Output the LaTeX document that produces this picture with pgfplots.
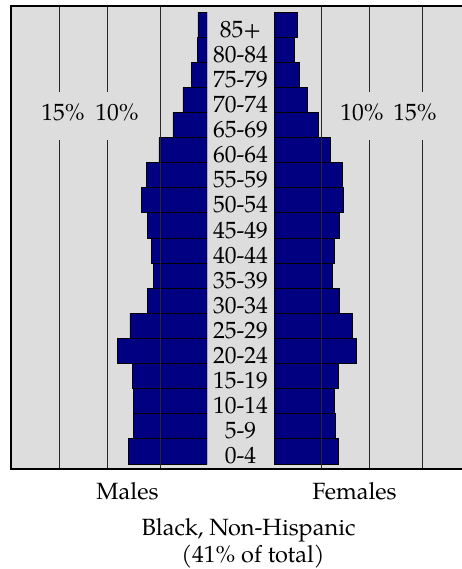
\documentclass[border=0pt]{standalone}
\usepackage{pgfplots}
\usepackage{pgfplotstable}
\pgfplotsset{compat=1.18}
\usepackage{fontspec}
\setmainfont{TeX Gyre Pagella}
\definecolor{bg}{RGB}{221,221,221}
\definecolor{barblue}{RGB}{0,0,128}
\definecolor{gridc}{RGB}{40,40,40}

% age index: 0 = 0-4, ..., 17 = 85+ ; values in percent
\pgfplotstableread{
age m    f
0   8.06 6.53
1   7.55 6.22
2   7.55 6.12
3   7.65 6.53
4   9.18 8.37
5   7.86 7.96
6   6.12 6.63
7   5.51 5.92
8   5.71 6.12
9   6.12 6.63
10  6.73 7.04
11  6.22 6.94
12  4.90 5.71
13  3.47 4.49
14  2.45 3.37
15  1.63 2.55
16  1.02 2.04
17  0.92 2.35
}\pyr

\pgfplotsset{pyr/.style={
  anchor=south west, height=463pt, scale only axis,
  ymin=-0.7, ymax=17.74, hide axis, xbar, bar width=1, xmin=0}}

\begin{document}
\begin{tikzpicture}[x=1pt,y=1pt]
\useasboundingbox (0,0) rectangle (462,569);
\fill[bg] (11,100) rectangle (470,563);

\begin{axis}[pyr, name=male, at={(11pt,100pt)}, width=196pt, xmax=20, x dir=reverse]
\addplot[fill=barblue, draw=black, line width=0.8pt] table[x=m, y=age]{\pyr};
\draw[gridc, line width=1pt] (axis cs:4.7,-0.7) -- (axis cs:4.7,17.74);
\draw[gridc, line width=1pt] (axis cs:10.2,-0.7) -- (axis cs:10.2,12.40);
\draw[gridc, line width=1pt] (axis cs:10.2,14.31) -- (axis cs:10.2,17.74);
\draw[gridc, line width=1pt] (axis cs:15.0,-0.7) -- (axis cs:15.0,12.40);
\draw[gridc, line width=1pt] (axis cs:15.0,14.31) -- (axis cs:15.0,17.74);
\end{axis}

\begin{axis}[pyr, name=female, at={(274pt,100pt)}, width=188pt, xmax=19.18]
\addplot[fill=barblue, draw=black, line width=0.8pt] table[x=f, y=age]{\pyr};
\draw[gridc, line width=1pt] (axis cs:4.8,-0.7) -- (axis cs:4.8,17.74);
\draw[gridc, line width=1pt] (axis cs:9.7,-0.7) -- (axis cs:9.7,12.40);
\draw[gridc, line width=1pt] (axis cs:9.7,14.31) -- (axis cs:9.7,17.74);
\draw[gridc, line width=1pt] (axis cs:15.1,-0.7) -- (axis cs:15.1,12.40);
\draw[gridc, line width=1pt] (axis cs:15.1,14.31) -- (axis cs:15.1,17.74);
\end{axis}

\draw[black, line width=1.2pt] (470,563) -- (11,563) -- (11,100) -- (470,100);

\begin{scope}[every node/.style={font=\fontsize{23.5}{27}\selectfont, anchor=base, inner sep=0pt}]
\foreach \k/\lab in {0/0-4,1/5-9,2/10-14,3/15-19,4/20-24,5/25-29,6/30-34,7/35-39,8/40-44,9/45-49,10/50-54,11/55-59,12/60-64,13/65-69,14/70-74,15/75-79,16/80-84,17/85+}
  \node at (240.5,{105+25.11*\k}) {\lab};
\node at (63,448) {15\%};
\node at (117,448) {10\%};
\node at (362,448) {10\%};
\node at (415,448) {15\%};
\node at (127.5,69) {Males};
\node at (354.5,69) {Females};
\node at (248.5,33) {Black, Non-Hispanic};
\node at (253,6) {(41\% of total)};
\end{scope}
\end{tikzpicture}
\end{document}
